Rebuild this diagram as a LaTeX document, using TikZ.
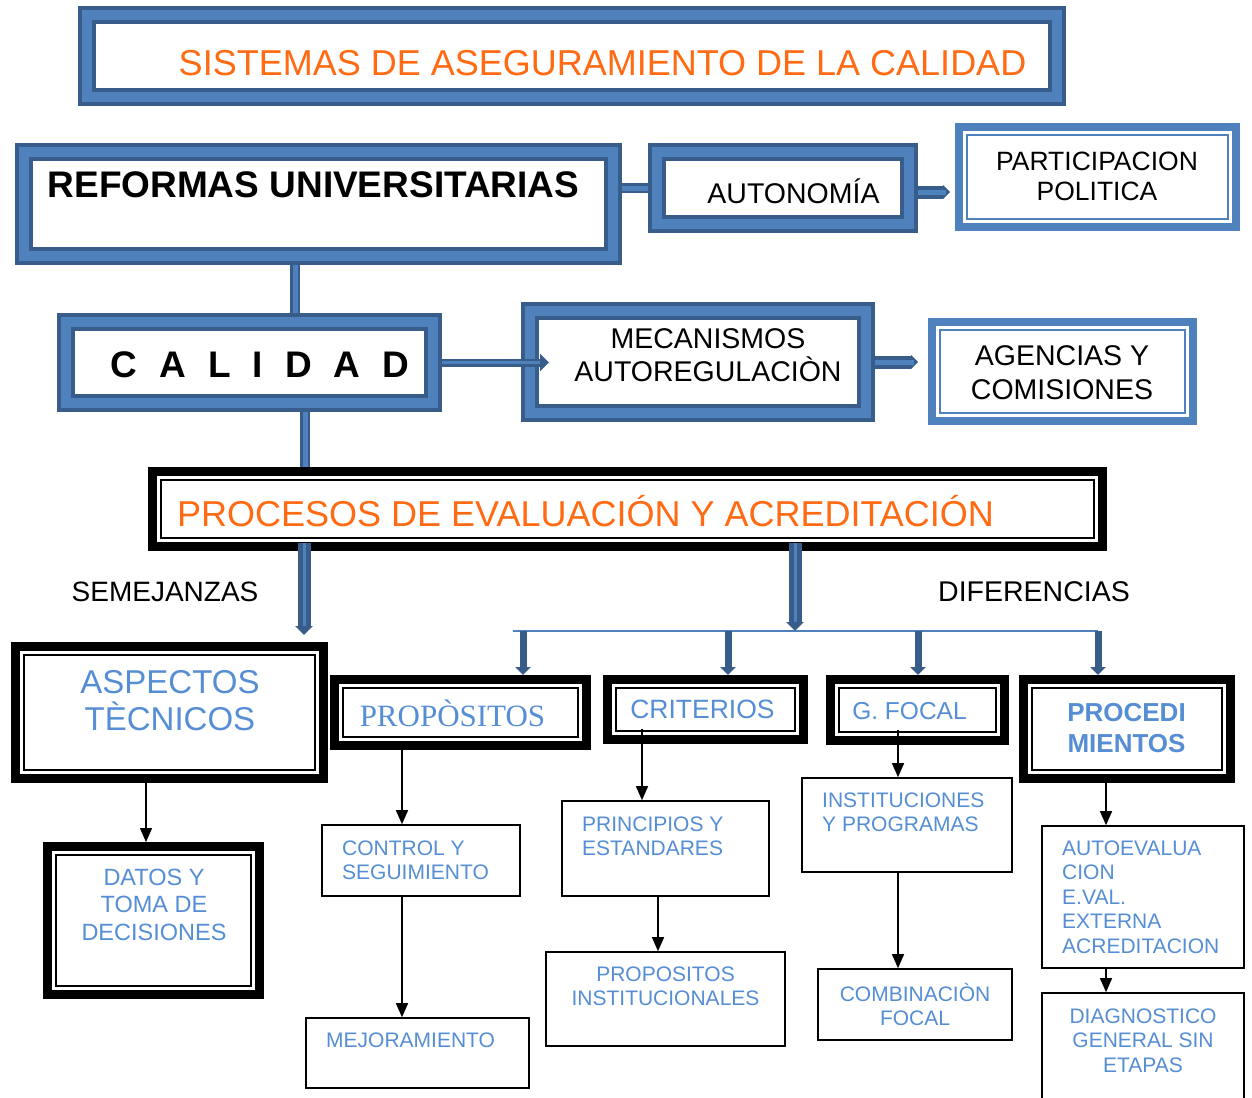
\documentclass[tikz,border=0pt]{standalone}
\usepackage{fontspec}
\setmainfont{Liberation Sans}
\newfontfamily\propfont{Liberation Serif}
\usetikzlibrary{arrows.meta}

\definecolor{framedark}{HTML}{385D8A}
\definecolor{frameblue}{HTML}{4F81BD}
\definecolor{textblue}{HTML}{558ED5}
\definecolor{titleorange}{HTML}{FF6A13}

\tikzset{
    bluebox/.style={draw=framedark, line width=4pt, double=frameblue, double distance=10pt, fill=white, inner sep=0pt, outer sep=9pt},
    lightbox/.style={draw=frameblue, line width=8pt, fill=white, inner sep=0pt, outer sep=4pt},
    blackbox/.style={draw=black, line width=9pt, fill=white, inner sep=0pt, outer sep=4.5pt},
    plainbox/.style={draw=black, line width=1.6pt, fill=white, inner sep=0pt},
    innerblue/.style={draw=frameblue, line width=1.6pt},
    innerblack/.style={draw=black, line width=1.6pt},
    lbl/.style={inner sep=0pt},
    small/.style={lbl, text=textblue, font=\fontsize{21}{24.5}\selectfont},
    bluebar/.style={draw=framedark, line width=2.5pt, double=frameblue, double distance=5pt},
    blockarrow/.style={draw=framedark, line width=9pt, -{Triangle[length=9pt,width=17pt]},
        postaction={draw=frameblue, line width=3pt, -, shorten >=#1}},
    blockarrow/.default=12pt,
    pointarrow/.style={draw=framedark, line width=13pt, -{Triangle[length=7pt,width=14pt]},
        postaction={draw=frameblue, line width=5pt, -, shorten >=#1}},
    bluedown/.style={draw=framedark, line width=7pt, -{Triangle[length=8pt,width=15pt]}},
    branchline/.style={draw=frameblue, line width=2pt},
    thinarrow/.style={draw=black, line width=1.4pt, -{Triangle[length=14pt,width=12pt]}}
}

\begin{document}
\begin{tikzpicture}[x=1pt, y=-1pt]
    \useasboundingbox (0,0) rectangle (1252,1097);

    % Blue frames
    \node[bluebox, minimum width=970pt, minimum height=82pt] (title) at (572,56) {};
    \node[bluebox, minimum width=589pt, minimum height=104pt] (reformas) at (318.5,204) {};
    \node[bluebox, minimum width=252pt, minimum height=72pt] (autonomia) at (783,188) {};
    \node[bluebox, minimum width=367pt, minimum height=81pt] (calidad) at (249.5,362.5) {};
    \node[bluebox, minimum width=336pt, minimum height=102pt] (mecanismos) at (698,362) {};
    \node[lightbox, minimum width=277pt, minimum height=100pt] (participacion) at (1097.5,177) {};
    \node[lightbox, minimum width=261pt, minimum height=99pt] (agencias) at (1062.5,371.5) {};

    % Black frames
    \node[blackbox, minimum width=950pt, minimum height=75pt] (procesos) at (627.5,509) {};
    \node[blackbox, minimum width=308pt, minimum height=132pt] (aspectos) at (169.5,712.5) {};
    \node[blackbox, minimum width=252pt, minimum height=66pt] (propositos) at (460.5,712.5) {};
    \node[blackbox, minimum width=196pt, minimum height=60pt] (criterios) at (705.5,709.5) {};
    \node[blackbox, minimum width=174pt, minimum height=61pt] (gfocal) at (917.5,710) {};
    \node[blackbox, minimum width=207pt, minimum height=99pt] (procedimientos) at (1127,729) {};
    \node[blackbox, minimum width=212pt, minimum height=148pt] (datos) at (153.5,920.5) {};

    % Inner lines
    \foreach \n in {participacion, agencias} {
        \draw[innerblue] ([xshift=12pt,yshift=-12pt]\n.north west) rectangle ([xshift=-12pt,yshift=12pt]\n.south east);
    }
    \foreach \n in {procesos, aspectos, propositos, criterios, gfocal, procedimientos, datos} {
        \draw[innerblack] ([xshift=13pt,yshift=-13pt]\n.north west) rectangle ([xshift=-13pt,yshift=13pt]\n.south east);
    }

    % Plain boxes
    \node[plainbox, minimum width=198pt, minimum height=71pt] (control) at (421,860.5) {};
    \node[plainbox, minimum width=223pt, minimum height=70pt] (mejora) at (417.5,1053) {};
    \node[plainbox, minimum width=207pt, minimum height=95pt] (principios) at (665.5,848.5) {};
    \node[plainbox, minimum width=239pt, minimum height=94pt] (propinst) at (665.5,999) {};
    \node[plainbox, minimum width=210pt, minimum height=94pt] (instit) at (907,825) {};
    \node[plainbox, minimum width=194pt, minimum height=71pt] (combina) at (915,1004.5) {};
    \node[plainbox, minimum width=202pt, minimum height=142pt] (autoeval) at (1143,897) {};
    \node[plainbox, minimum width=202pt, minimum height=106pt] (diag) at (1143,1046) {};

    % Texts
    \node[lbl, text=titleorange, font=\fontsize{36}{40}\selectfont] (t-title) at (602.5,63) {SISTEMAS DE ASEGURAMIENTO DE LA CALIDAD};
    \node[lbl, font=\fontsize{37}{40}\selectfont\bfseries] (t-reformas) at (313.5,185) {REFORMAS UNIVERSITARIAS};
    \node[lbl, font=\fontsize{28.5}{32}\selectfont] (t-autonomia) at (793.5,191) {AUTONOMÍA};
    \node[lbl, align=center, font=\fontsize{26.5}{30}\selectfont] (t-participacion) at (1097,176) {PARTICIPACION\\POLITICA};
    \node[lbl, font=\fontsize{37}{40}\selectfont\bfseries] (t-calidad) at (260,365)
        {C\hspace{22pt}A\hspace{22pt}L\hspace{22pt}I\hspace{22pt}D\hspace{22pt}A\hspace{22pt}D};
    \node[lbl, align=center, font=\fontsize{28.5}{33}\selectfont] (t-mecanismos) at (708,355.5) {MECANISMOS\\AUTOREGULACIÒN};
    \node[lbl, align=center, font=\fontsize{28.5}{34}\selectfont] (t-agencias) at (1062,373) {AGENCIAS Y\\COMISIONES};
    \node[lbl, text=titleorange, font=\fontsize{36}{40}\selectfont] (t-procesos) at (585.5,511) {PROCESOS DE EVALUACIÓN Y ACREDITACIÓN};
    \node[lbl, font=\fontsize{28}{32}\selectfont] (t-semejanzas) at (165,592) {SEMEJANZAS};
    \node[lbl, font=\fontsize{28.5}{32}\selectfont] (t-diferencias) at (1034,592) {DIFERENCIAS};
    \node[lbl, align=center, text=textblue, font=\fontsize{33}{37}\selectfont] (t-aspectos) at (170,700.5) {ASPECTOS\\TÈCNICOS};
    \node[lbl, text=textblue, font=\fontsize{31}{34}\selectfont\propfont] (t-propositos) at (452.5,713) {PROPÒSITOS};
    \node[lbl, text=textblue, font=\fontsize{26.5}{30}\selectfont] (t-criterios) at (702.5,709) {CRITERIOS};
    \node[lbl, text=textblue, font=\fontsize{24.5}{28}\selectfont] (t-gfocal) at (909.5,711) {G. FOCAL};
    \node[lbl, align=center, text=textblue, font=\fontsize{26}{31}\selectfont\bfseries] (t-procedimientos) at (1126.5,728.5) {PROCEDI\\MIENTOS};
    \node[lbl, align=center, text=textblue, font=\fontsize{23.5}{27.5}\selectfont] (t-datos) at (154,904.5) {DATOS Y\\TOMA DE\\DECISIONES};
    \node[small, align=left, anchor=west] (t-control) at (342,860.5) {CONTROL Y\\SEGUIMIENTO};
    \node[small, anchor=west] (t-mejora) at (326,1040) {MEJORAMIENTO};
    \node[small, align=left, anchor=west] (t-principios) at (582,836.5) {PRINCIPIOS Y\\ESTANDARES};
    \node[small, align=center] (t-propinst) at (665.5,986.5) {PROPOSITOS\\INSTITUCIONALES};
    \node[small, align=left, anchor=west] (t-instit) at (822,812.5) {INSTITUCIONES\\Y PROGRAMAS};
    \node[small, align=center] (t-combina) at (915,1004.5) {COMBINACIÒN\\FOCAL};
    \node[small, align=left, anchor=west] (t-autoeval) at (1062,897) {AUTOEVALUA\\CION\\E.VAL.\\EXTERNA\\ACREDITACION};
    \node[small, align=center] (t-diag) at (1143,1040.5) {DIAGNOSTICO\\GENERAL SIN\\ETAPAS};

    % Upper connectors
    \draw[bluebar] (reformas.east |- autonomia.west) -- (autonomia.west);
    \draw[pointarrow=9pt, shorten >=5pt] ([yshift=-4pt]autonomia.east) -- ([yshift=-4pt]autonomia.east -| participacion.west);
    \draw[bluebar] ([xshift=-23.5pt]reformas.south) -- ([xshift=45.5pt]calidad.north);
    \draw[blockarrow=-19pt, line width=8pt, shorten >=-28pt] (calidad.east) -- (calidad.east -| mecanismos.west);
    \draw[pointarrow=14pt, shorten >=10pt] (mecanismos.east) -- (mecanismos.east -| agencias.west);
    \draw[bluebar] ([xshift=55.5pt]calidad.south) -- ([xshift=-322.5pt]procesos.north);

    % Branches from PROCESOS
    \coordinate (branch) at (795,631);
    \coordinate (branchleft) at (513,631);
    \coordinate (branchright) at (1098,631);
    \draw[blockarrow=16pt, line width=13pt, shorten >=7pt] ([xshift=-323.5pt,yshift=8pt]procesos.south) -- ([xshift=134.5pt]aspectos.north);
    \draw[branchline] (branchleft) -- (branchright);
    \draw[blockarrow=9pt, line width=13pt] ([xshift=167.5pt,yshift=8pt]procesos.south) -- (branch);
    \foreach \n/\d in {propositos/62.5pt, criterios/22.5pt, gfocal/0.5pt, procedimientos/-29pt} {
        \draw[bluedown] ([xshift=\d,yshift=44pt]\n.north) -- ([xshift=\d]\n.north);
    }

    % Lower connectors
    \draw[thinarrow] ([xshift=-23.5pt]aspectos.south) -- ([xshift=-7.5pt]datos.north);
    \draw[thinarrow] ([xshift=-58.5pt]propositos.south) -- ([xshift=-19pt]control.north);
    \draw[thinarrow] ([xshift=-19pt]control.south) -- ([xshift=-15.5pt]mejora.north);
    \draw[thinarrow] ([xshift=-63.5pt,yshift=15pt]criterios.south) -- ([xshift=-23.5pt]principios.north);
    \draw[thinarrow] ([xshift=-7.5pt]principios.south) -- ([xshift=-7.5pt]propinst.north);
    \draw[thinarrow] ([xshift=-19.5pt,yshift=15pt]gfocal.south) -- ([xshift=-9pt]instit.north);
    \draw[thinarrow] ([xshift=-9pt]instit.south) -- ([xshift=-17pt]combina.north);
    \draw[thinarrow] ([xshift=-21pt]procedimientos.south) -- ([xshift=-37pt]autoeval.north);
    \draw[thinarrow] ([xshift=-37pt]autoeval.south) -- ([xshift=-37pt]diag.north);
\end{tikzpicture}
\end{document}
